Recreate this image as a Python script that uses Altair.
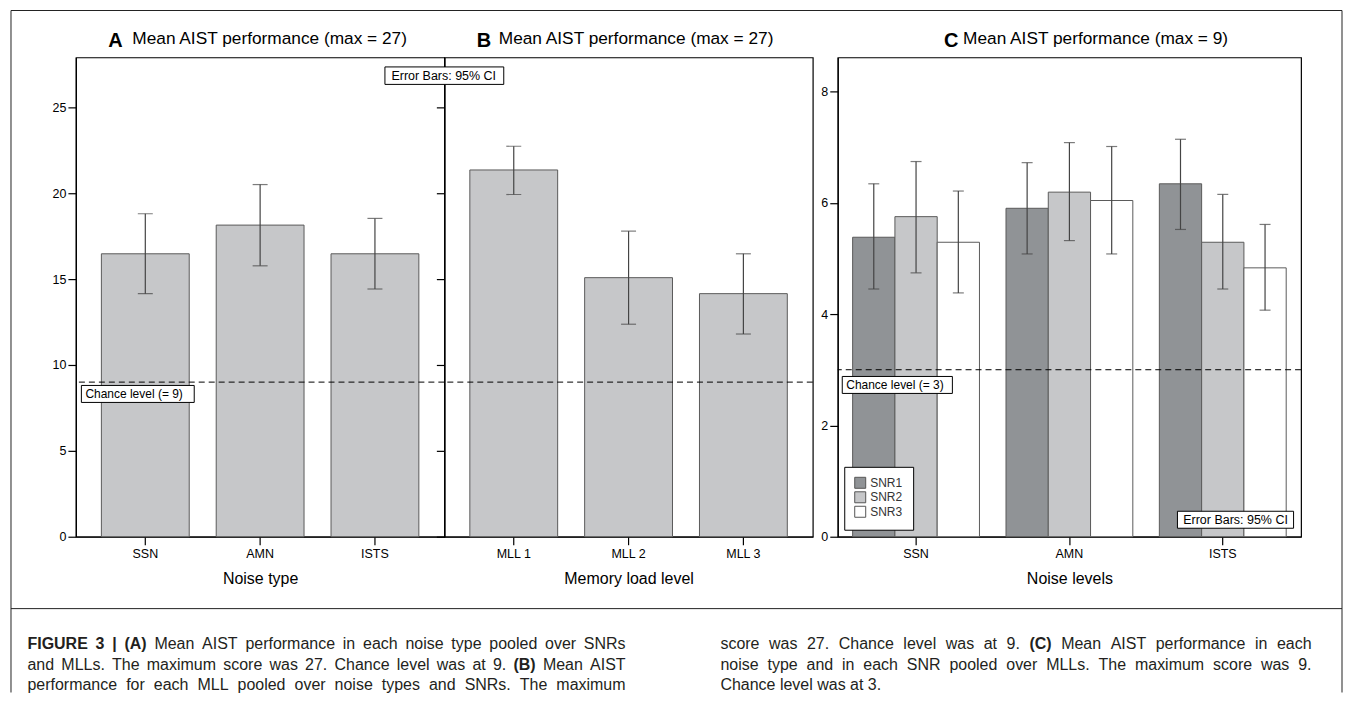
import altair as alt
import pandas as pd

FONT = "Liberation Sans, Arial, Helvetica, sans-serif"

# ---------------- data ----------------
noise_types = ["SSN", "AMN", "ISTS"]
a_mean = [16.47, 18.14, 16.47]
a_lo = [14.15, 15.77, 14.42]
a_hi = [18.80, 20.50, 18.53]

mll_levels = ["MLL 1", "MLL 2", "MLL 3"]
b_mean = [21.35, 15.08, 14.15]
b_lo = [19.92, 12.37, 11.80]
b_hi = [22.73, 17.79, 16.47]

snr_levels = ["SNR1", "SNR2", "SNR3"]
c_noise = ["SSN", "SSN", "SSN", "AMN", "AMN", "AMN", "ISTS", "ISTS", "ISTS"]
c_snr = ["SNR1", "SNR2", "SNR3", "SNR1", "SNR2", "SNR3", "SNR1", "SNR2", "SNR3"]
c_mean = [5.38, 5.75, 5.29, 5.90, 6.19, 6.04, 6.34, 5.29, 4.83]
c_lo = [4.45, 4.74, 4.38, 5.08, 5.32, 5.08, 5.52, 4.45, 4.07]
c_hi = [6.34, 6.74, 6.21, 6.72, 7.08, 7.01, 7.14, 6.15, 5.61]

chance_ab = [9]
chance_c = [3]

ab_ticks = [0, 5, 10, 15, 20, 25]
c_ticks = [0, 2, 4, 6, 8]

bar_fill = "#c6c7c9"
snr_colors = ["#909396", "#c6c7c9", "#ffffff"]

one = pd.DataFrame({"k": [0]})

dfA = pd.DataFrame({"cat": noise_types, "mean": a_mean, "lo": a_lo, "hi": a_hi})
dfB = pd.DataFrame({"cat": mll_levels, "mean": b_mean, "lo": b_lo, "hi": b_hi})
dfC = pd.DataFrame({"noise": c_noise, "snr": c_snr, "mean": c_mean, "lo": c_lo, "hi": c_hi})

W, H = 369, 480
WC = 464
DASH = [6, 4]


def txt(s, x, y, size=12, weight="normal", align="left", baseline="middle", color="black"):
    return alt.Chart(one).mark_text(text=s, font=FONT, fontSize=size, fontWeight=weight,
                                    align=align, baseline=baseline, color=color).encode(
        x=alt.value(x), y=alt.value(y))


def box(x1, x2, y1, y2):
    return alt.Chart(one).mark_rect(fill="white", stroke="black", strokeWidth=1).encode(
        x=alt.value(x1), x2=alt.value(x2), y=alt.value(y1), y2=alt.value(y2))


def rule(x1, x2, y1, y2):
    return alt.Chart(one).mark_rule(color="#222", strokeWidth=1).encode(
        x=alt.value(x1), x2=alt.value(x2), y=alt.value(y1), y2=alt.value(y2))


# ---------------- caption (positioned relative to panel A's plot origin) ----------------
W_REG = {" ": 278, "(": 333, ")": 333, ".": 278, ",": 278, "|": 260, "=": 584, ":": 278,
         "A": 667, "B": 667, "C": 722, "D": 722, "E": 667, "F": 611, "G": 778, "H": 722,
         "I": 278, "L": 556, "M": 833, "N": 722, "O": 778, "R": 722, "S": 667, "T": 611,
         "U": 722, "a": 556, "b": 556, "c": 500, "d": 556, "e": 556, "f": 278, "g": 556,
         "h": 556, "i": 222, "l": 222, "m": 833, "n": 556, "o": 556, "p": 556, "r": 333,
         "s": 500, "t": 278, "u": 556, "v": 500, "w": 722, "x": 500, "y": 500}
W_BOLD = {"A": 722, "B": 722, "C": 722, "|": 280}
CAP = 16


def tw(s, bold):
    return sum((W_BOLD.get(ch) if bold and ch in W_BOLD else W_REG.get(ch, 556)) for ch in s) * CAP / 1000


left_lines = [
    (["*FIGURE", "*3", "*|", "*(A)", "Mean", "AIST", "performance", "in", "each", "noise", "type",
      "pooled", "over", "SNRs"], True),
    (["and", "MLLs.", "The", "maximum", "score", "was", "27.", "Chance", "level", "was", "at", "9.",
      "*(B)", "Mean", "AIST"], True),
    (["performance", "for", "each", "MLL", "pooled", "over", "noise", "types", "and", "SNRs.", "The",
      "maximum"], True),
]
right_lines = [
    (["score", "was", "27.", "Chance", "level", "was", "at", "9.", "*(C)", "Mean", "AIST",
      "performance", "in", "each"], True),
    (["noise", "type", "and", "in", "each", "SNR", "pooled", "over", "MLLs.", "The", "maximum",
      "score", "was", "9."], True),
    (["Chance", "level", "was", "at", "3."], False),
]


def layout(lines, x0, x1, y0, dy):
    rows = []
    for i, (tokens, justify) in enumerate(lines):
        words = [(t[1:], True) if t.startswith("*") else (t, False) for t in tokens]
        widths = [tw(w, b) for w, b in words]
        gap = tw(" ", False)
        if justify and len(words) > 1:
            gap = (x1 - x0 - sum(widths)) / (len(words) - 1)
        x = x0
        for (w, b), wd in zip(words, widths):
            rows.append((w, b, x, y0 + i * dy))
            x += wd + gap
    return rows


cap_rows = layout(left_lines, -48.5, 550.5, 592.5, 20.5) + layout(right_lines, 645.5, 1237.5, 592.5, 20.5)
caption_layers = [txt(w, x, y, size=CAP, weight="bold" if b else "normal",
                      baseline="alphabetic", color="#231f20") for (w, b, x, y) in cap_rows]

FL, FR, FT, FB, FS = -65, 1268, -47, 636, 552
frame_layers = [rule(FL, FR, FT, FT), rule(FL, FL, FT, FB), rule(FR, FR, FT, FB), rule(FL, FR, FS, FS)]


def simple_panel(df, cats, xtitle, ydom, show_labels, letter, title_text, letter_x, text_x, extras):
    xs = alt.Scale(paddingInner=0.235, paddingOuter=0.222)
    X = alt.X("cat:N", sort=cats, scale=xs, axis=alt.Axis(title=xtitle, labelAngle=0))
    ys = alt.Scale(domain=ydom, nice=False, zero=True)
    yaxis = alt.Axis(values=ab_ticks, labels=show_labels)
    base = alt.Chart(df)
    bars = base.mark_bar(fill=bar_fill, stroke="#5a5a5a", strokeWidth=1).encode(
        x=X, y=alt.Y("mean:Q", scale=ys, axis=yaxis, title=None))
    err = base.mark_rule(color="#444", strokeWidth=1.2).encode(
        x=alt.X("cat:N", sort=cats), y=alt.Y("lo:Q", title=None), y2="hi:Q")
    cap_hi = base.mark_tick(color="#444", thickness=1.2, size=15).encode(
        x=alt.X("cat:N", sort=cats), y=alt.Y("hi:Q", title=None))
    cap_lo = base.mark_tick(color="#444", thickness=1.2, size=15).encode(
        x=alt.X("cat:N", sort=cats), y=alt.Y("lo:Q", title=None))
    chance = alt.Chart(pd.DataFrame({"v": chance_ab})).mark_rule(
        color="black", strokeWidth=1, strokeDash=DASH).encode(y=alt.Y("v:Q", title=None))
    t1 = txt(letter, letter_x, -10.5, size=20, weight="bold", baseline="alphabetic")
    t2 = txt(title_text, text_x, -13, size=17.3, baseline="alphabetic")
    return alt.layer(bars, err, cap_hi, cap_lo, chance, *extras, t1, t2).properties(width=W, height=H)


panelA = simple_panel(
    dfA, noise_types, "Noise type", [0, 27.9], True, "A",
    "Mean AIST performance (max = 27)", 32.5, 56.5,
    [box(5.5, 118.5, 328.5, 345.5), txt("Chance level (= 9)", 9.5, 337.5, size=12)]
    + frame_layers + caption_layers)

panelB = simple_panel(
    dfB, mll_levels, "Memory load level", [0, 27.9], False, "B",
    "Mean AIST performance (max = 27)", 32.5, 54.5,
    [box(-59.5, 59.5, 9.5, 27), txt("Error Bars: 95% CI", -53, 18.5, size=12.5)])

# ---------------- panel C ----------------
xsC = alt.Scale(paddingInner=0.173, paddingOuter=0.097)
XC = alt.X("noise:N", sort=noise_types, scale=xsC, axis=alt.Axis(title="Noise levels", labelAngle=0))
XO = alt.XOffset("snr:N", sort=snr_levels, scale=alt.Scale(paddingInner=0, paddingOuter=0))
ysC = alt.Scale(domain=[0, 8.61], nice=False, zero=True)
baseC = alt.Chart(dfC)
barsC = baseC.mark_bar(stroke="#5a5a5a", strokeWidth=1).encode(
    x=XC, xOffset=XO,
    y=alt.Y("mean:Q", scale=ysC, axis=alt.Axis(values=c_ticks), title=None),
    fill=alt.Fill("snr:N", sort=snr_levels,
                  scale=alt.Scale(domain=snr_levels, range=snr_colors),
                  legend=alt.Legend(title=None, orient="none", legendX=6.5, legendY=410,
                                    symbolType="square", symbolSize=121,
                                    symbolStrokeColor="#555", symbolStrokeWidth=1,
                                    labelFont=FONT, labelFontSize=12, labelColor="#333",
                                    labelOffset=4, rowPadding=-1.5, padding=10,
                                    strokeColor="black", fillColor="white")))
errC = baseC.mark_rule(color="#444", strokeWidth=1.2).encode(
    x=alt.X("noise:N", sort=noise_types), xOffset=XO,
    y=alt.Y("lo:Q", title=None), y2="hi:Q")
capC_hi = baseC.mark_tick(color="#444", thickness=1.2, size=11).encode(
    x=alt.X("noise:N", sort=noise_types), xOffset=XO, y=alt.Y("hi:Q", title=None))
capC_lo = baseC.mark_tick(color="#444", thickness=1.2, size=11).encode(
    x=alt.X("noise:N", sort=noise_types), xOffset=XO, y=alt.Y("lo:Q", title=None))
chanceC = alt.Chart(pd.DataFrame({"v": chance_c})).mark_rule(
    color="black", strokeWidth=1, strokeDash=DASH).encode(y=alt.Y("v:Q", title=None))

panelC = alt.layer(
    barsC, errC, capC_hi, capC_lo, chanceC,
    box(4.5, 114.8, 319.5, 336.5), txt("Chance level (= 3)", 8.5, 328.5, size=12),
    box(340.2, 456.5, 454.5, 471.5), txt("Error Bars: 95% CI", 346, 463.5, size=12.5),
    txt("C", 106.5, -10.5, size=20, weight="bold", baseline="alphabetic"),
    txt("Mean AIST performance (max = 9)", 125.5, -13, size=17.3, baseline="alphabetic"),
).properties(width=WC, height=H)

spacer = alt.Chart(one).mark_point(opacity=0).encode(
    x=alt.value(0), y=alt.value(0)
).properties(width=25, height=H, view=alt.ViewBackground(stroke="transparent"))

chart = alt.hconcat(panelA, panelB, spacer, panelC, spacing=0, bounds="flush").resolve_legend(
    fill="independent"
).properties(
    padding={"left": 1, "top": 0, "right": 0, "bottom": 0}
).configure_view(
    stroke="black", strokeWidth=1.2
).configure_axis(
    domainColor="black", domainWidth=1.2, tickColor="black", tickWidth=1.2, tickSize=8,
    labelColor="black", titleColor="black", labelFont=FONT, titleFont=FONT,
    labelFontSize=12.5, titleFontSize=16, titleFontWeight="normal", grid=False
).configure_axisX(
    labelPadding=3, titlePadding=10
).configure_axisY(
    labelPadding=2
)

chart.save("out.html", embed_options={"renderer": "svg", "actions": False})
